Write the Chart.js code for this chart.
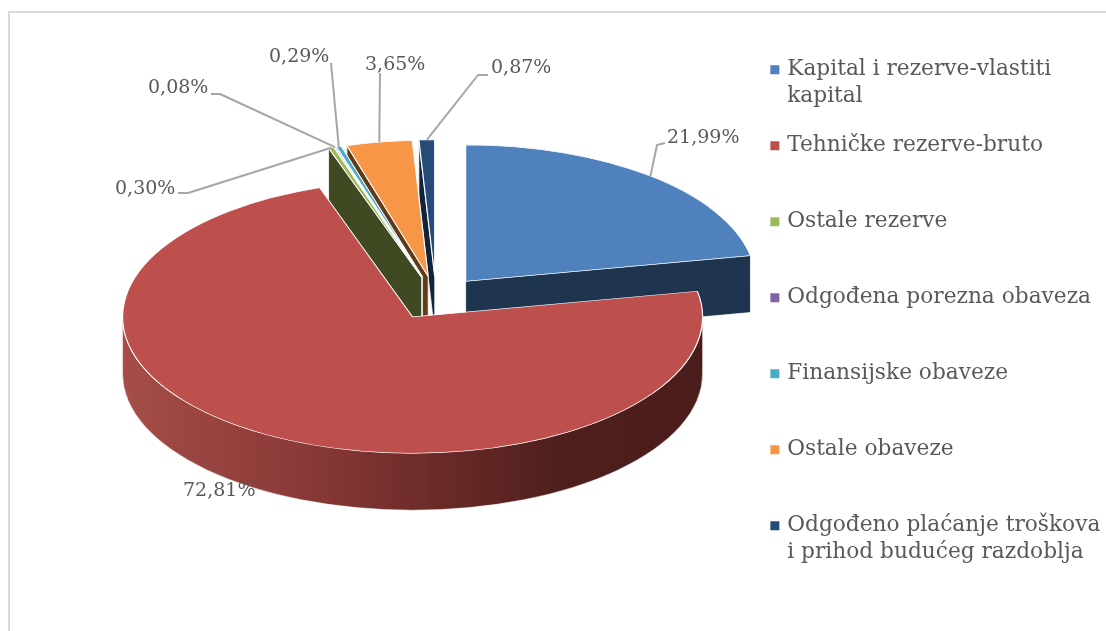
<!DOCTYPE html>
<html><head><meta charset="utf-8">
<style>
html,body{margin:0;padding:0;background:#fff;overflow:hidden}
#frame{position:absolute;left:8px;top:11px;width:1200px;height:800px;border-left:2px solid #d9d9d9;border-top:2px solid #d9d9d9}
canvas{position:absolute;left:0;top:0}
</style>
<script src="https://cdn.jsdelivr.net/npm/chart.js@4/dist/chart.umd.js"></script>
</head><body>
<div id="frame"></div>
<canvas id="c" width="1106" height="631"></canvas>
<script>
const categories = [
  ['Kapital i rezerve-vlastiti','kapital'],
  ['Tehničke rezerve-bruto',''],
  ['Ostale rezerve',''],
  ['Odgođena porezna obaveza',''],
  ['Finansijske obaveze',''],
  ['Ostale obaveze',''],
  ['Odgođeno plaćanje troškova','i prihod budućeg razdoblja']
];
const shares = [21.99,72.81,0.30,0.08,0.29,3.65,0.87];
const topColors  = ['#4f81bd','#bd4f4c','#9bbb59','#8064a2','#4bacc6','#f79646','#274b78'];
const wallColors = ['#1f344f','#4a1c1a','#3f4a22','#3d2f50','#1f5563','#633a18','#12243b'];

const PIE = {cx:436, cy:298, radius:290, tilt:0.47, explode:46.5, depth:57, paintOrder:[6,5,4,3,2,0,1]};
const redGradient = [[0,'#a54d49'],[0.3,'#8b3a37'],[0.55,'#6a2a28'],[0.75,'#4f1f1d'],[1,'#4a1c1a']];
const LABEL_FONT = '19px "DejaVu Serif"';
const labelLayout = [
  {x:667,y:138,path:[[657,145],[665,143]]},
  {x:183,y:491,path:null},
  {x:115,y:189,path:[[188,193],[178,193]]},
  {x:148,y:88,path:[[220,94],[211,94]]},
  {x:269,y:57,path:[[331,63]]},
  {x:365,y:65,path:[[380,73]]},
  {x:491,y:68,path:[[478,75],[488,75]]}
];

function apex(arc){
  const mid=(arc.startAngle+arc.endAngle)/2;
  return {x:PIE.cx+Math.cos(mid)*PIE.explode, y:PIE.cy+Math.sin(mid)*PIE.explode*PIE.tilt};
}
function rim(p,a){return {x:p.x+Math.cos(a)*PIE.radius, y:p.y+Math.sin(a)*PIE.radius*PIE.tilt};}
function face(ctx,p,a,color){
  const r=rim(p,a);
  ctx.beginPath();ctx.moveTo(p.x,p.y);ctx.lineTo(r.x,r.y);ctx.lineTo(r.x,r.y+PIE.depth);ctx.lineTo(p.x,p.y+PIE.depth);ctx.closePath();
  ctx.fillStyle=color;ctx.fill();ctx.strokeStyle='rgba(255,255,255,.75)';ctx.lineWidth=1;ctx.stroke();
}
function curved(ctx,p,a1,a2){
  const g=ctx.createLinearGradient(p.x-PIE.radius,0,p.x+PIE.radius,0);
  redGradient.forEach(s=>g.addColorStop(s[0],s[1]));
  const ry=PIE.radius*PIE.tilt;
  ctx.beginPath();ctx.ellipse(p.x,p.y,PIE.radius,ry,0,a1,a2);
  ctx.ellipse(p.x,p.y+PIE.depth,PIE.radius,ry,0,a2,a1,true);ctx.closePath();
  ctx.fillStyle=g;ctx.fill();ctx.strokeStyle='rgba(255,255,255,.6)';ctx.lineWidth=0.8;ctx.stroke();
}
const pie3d={
  id:'pie3d',
  beforeDatasetDraw(chart,args){
    const ctx=chart.ctx,arcs=chart.getDatasetMeta(args.index).data;
    PIE.paintOrder.forEach(i=>{
      const arc=arcs[i],p=apex(arc),s=arc.startAngle,e=arc.endAngle;
      if(Math.cos(s)<-1e-6)face(ctx,p,s,wallColors[i]);
      if(Math.cos(e)>1e-6)face(ctx,p,e,wallColors[i]);
      const a1=Math.max(s,0),a2=Math.min(e,Math.PI);
      if(a2>a1)curved(ctx,p,a1,a2);
      ctx.save();ctx.translate(p.x,p.y);ctx.scale(1,PIE.tilt);ctx.translate(-arc.x,-arc.y);
      arc.draw(ctx);ctx.restore();
    });
    return false;
  },
  afterDatasetsDraw(chart){
    const ctx=chart.ctx,arcs=chart.getDatasetMeta(0).data;
    ctx.save();
    ctx.strokeStyle='#a6a6a6';ctx.lineWidth=2;ctx.lineJoin='round';
    labelLayout.forEach((l,i)=>{
      if(!l.path)return;
      const arc=arcs[i],r=rim(apex(arc),(arc.startAngle+arc.endAngle)/2);
      ctx.beginPath();ctx.moveTo(r.x,r.y);l.path.forEach(q=>ctx.lineTo(q[0],q[1]));ctx.stroke();
    });
    ctx.font=LABEL_FONT;ctx.fillStyle='#595959';ctx.textBaseline='middle';ctx.textAlign='left';
    labelLayout.forEach((l,i)=>ctx.fillText(shares[i].toFixed(2).replace('.',',')+'%',l.x,l.y));
    ctx.restore();
  }
};
new Chart(document.getElementById('c'),{
  type:'pie',
  data:{labels:categories,datasets:[{data:shares,backgroundColor:topColors,borderColor:'#ffffff',borderWidth:1.2}]},
  options:{
    responsive:false,animation:false,radius:PIE.radius,
    layout:{padding:{top:37,right:5,bottom:0,left:0}},
    plugins:{
      tooltip:{enabled:false},
      legend:{position:'right',align:'start',labels:{
        usePointStyle:true,pointStyle:'rect',boxWidth:3,boxHeight:9,padding:22,color:'#595959',
        font:{family:'"DejaVu Serif"',size:21.7,lineHeight:1.244},
        generateLabels(chart){
          return Chart.overrides.pie.plugins.legend.labels.generateLabels(chart).map(x=>Object.assign(x,{lineWidth:0}));
        }
      }}
    }
  },
  plugins:[pie3d]
});
</script>
</body></html>
